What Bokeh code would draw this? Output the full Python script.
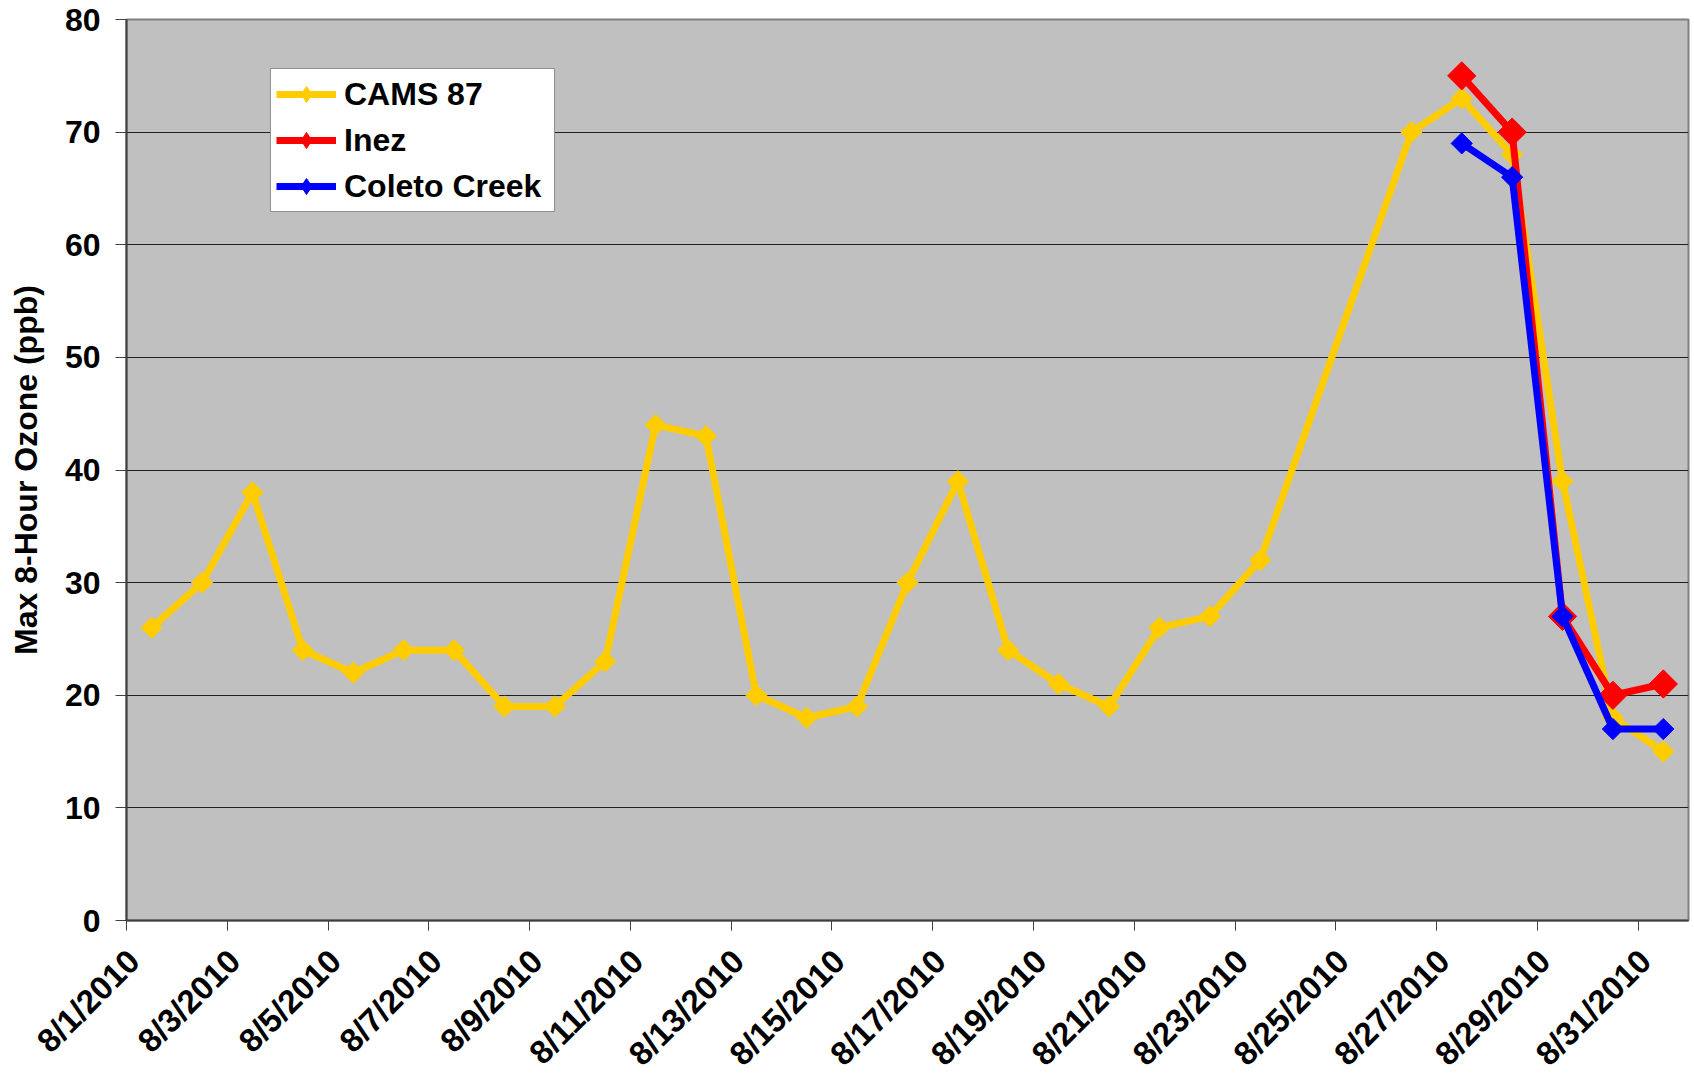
import numpy as np
from bokeh.plotting import figure
from bokeh.models import FixedTicker, Legend, LegendItem, Range1d
from bokeh.embed import file_html
from bokeh.resources import INLINE

# ---- data ----
dates = ["8/1/2010", "8/2/2010", "8/3/2010", "8/4/2010", "8/5/2010", "8/6/2010",
         "8/7/2010", "8/8/2010", "8/9/2010", "8/10/2010", "8/11/2010", "8/12/2010",
         "8/13/2010", "8/14/2010", "8/15/2010", "8/16/2010", "8/17/2010", "8/18/2010",
         "8/19/2010", "8/20/2010", "8/21/2010", "8/22/2010", "8/23/2010", "8/24/2010",
         "8/25/2010", "8/26/2010", "8/27/2010", "8/28/2010", "8/29/2010", "8/30/2010",
         "8/31/2010"]
cams87 = [26, 30, 38, 24, 22, 24, 24, 19, 19, 23, 44, 43, 20, 18, 19, 30, 39, 24, 21,
          19, 26, 27, 32, None, None, 70, 73, 68, 39, 18, 15]
inez = [None] * 26 + [75, 70, 27, 20, 21]
coleto = [None] * 26 + [69, 66, 27, 17, 17]
y_ticks = [0, 10, 20, 30, 40, 50, 60, 70, 80]
label_every = 2

FONT = "Liberation Sans"

n = len(dates)
x_centers = np.arange(n) + 0.5


def pts(vals):
    xs = [x for x, v in zip(x_centers, vals) if v is not None]
    ys = [v for v in vals if v is not None]
    return xs, ys


p = figure(frame_width=1562, frame_height=901,
           min_border_left=126, min_border_right=4, min_border_top=19, min_border_bottom=155,
           x_range=Range1d(0, n), y_range=Range1d(0, 80),
           output_backend="svg", toolbar_location=None)

p.background_fill_color = "#C0C0C0"
p.border_fill_color = "white"
p.outline_line_color = "#808080"
p.outline_line_width = 2

p.xgrid.visible = False
p.ygrid.ticker = FixedTicker(ticks=y_ticks)
p.ygrid.grid_line_color = "#202020"
p.ygrid.grid_line_width = 1

# y axis
yax = p.yaxis[0]
yax.ticker = FixedTicker(ticks=y_ticks)
yax.axis_label = "Max 8-Hour Ozone (ppb)"
yax.axis_label_text_font = FONT
yax.axis_label_text_font_size = "32px"
yax.axis_label_text_font_style = "bold"
yax.axis_label_text_color = "black"
yax.axis_label_standoff = 18
yax.major_label_text_font = FONT
yax.major_label_text_font_size = "32px"
yax.major_label_text_font_style = "bold"
yax.major_label_text_color = "black"
yax.major_label_standoff = 15
yax.major_tick_out = 11
yax.major_tick_in = 0
yax.minor_tick_out = 0
yax.minor_tick_in = 0
yax.axis_line_color = "#404040"
yax.axis_line_width = 2
yax.major_tick_line_color = "#404040"

# x axis: tick marks (minor ticks) at category boundaries every other category,
# rotated date labels (major ticks, no mark) just right of each tick mark
tick_pos = list(range(0, n, label_every))
label_pos = [t + 0.14 for t in tick_pos]
xax = p.xaxis[0]
xax.ticker = FixedTicker(ticks=label_pos, minor_ticks=tick_pos)
xax.major_label_overrides = {lp: dates[t] for lp, t in zip(label_pos, tick_pos)}
xax.major_label_orientation = np.pi / 4
xax.major_label_text_font = FONT
xax.major_label_text_font_size = "33px"
xax.major_label_text_font_style = "bold"
xax.major_label_text_color = "black"
xax.major_label_standoff = 25
xax.major_tick_out = 0
xax.major_tick_in = 0
xax.major_tick_line_color = None
xax.minor_tick_out = 10
xax.minor_tick_in = 0
xax.minor_tick_line_color = "#404040"
xax.minor_tick_line_width = 1
xax.axis_line_color = "#404040"
xax.axis_line_width = 2

series = [("CAMS 87", cams87, "#FFCC00", 15),
          ("Inez", inez, "#FF0000", 20),
          ("Coleto Creek", coleto, "#0000FF", 15)]
items = []
for name, vals, col, msize in series:
    xs, ys = pts(vals)
    ln = p.line(xs, ys, line_color=col, line_width=7)
    p.scatter(xs, ys, marker="square", angle=np.pi / 4, size=msize,
              fill_color=col, line_color=col)
    # legend proxy (a single NaN point, never visible) so the legend shows diamonds
    ps = p.scatter([np.nan], [np.nan], marker="diamond", size=msize,
                   fill_color=col, line_color=col)
    items.append(LegendItem(label=name, renderers=[ln, ps]))

legend = Legend(items=items, location=(144, 708))
legend.label_text_font = FONT
legend.label_text_font_size = "32px"
legend.label_text_font_style = "bold"
legend.label_text_color = "black"
legend.glyph_width = 60
legend.glyph_height = 40
legend.label_height = 40
legend.label_width = 205
legend.label_standoff = 8
legend.spacing = 6
legend.padding = 5
legend.margin = 0
legend.border_line_color = "#202020"
legend.border_line_width = 1
legend.background_fill_color = "white"
legend.background_fill_alpha = 1.0
p.add_layout(legend)

open("out.html", "w").write(file_html(p, INLINE))
